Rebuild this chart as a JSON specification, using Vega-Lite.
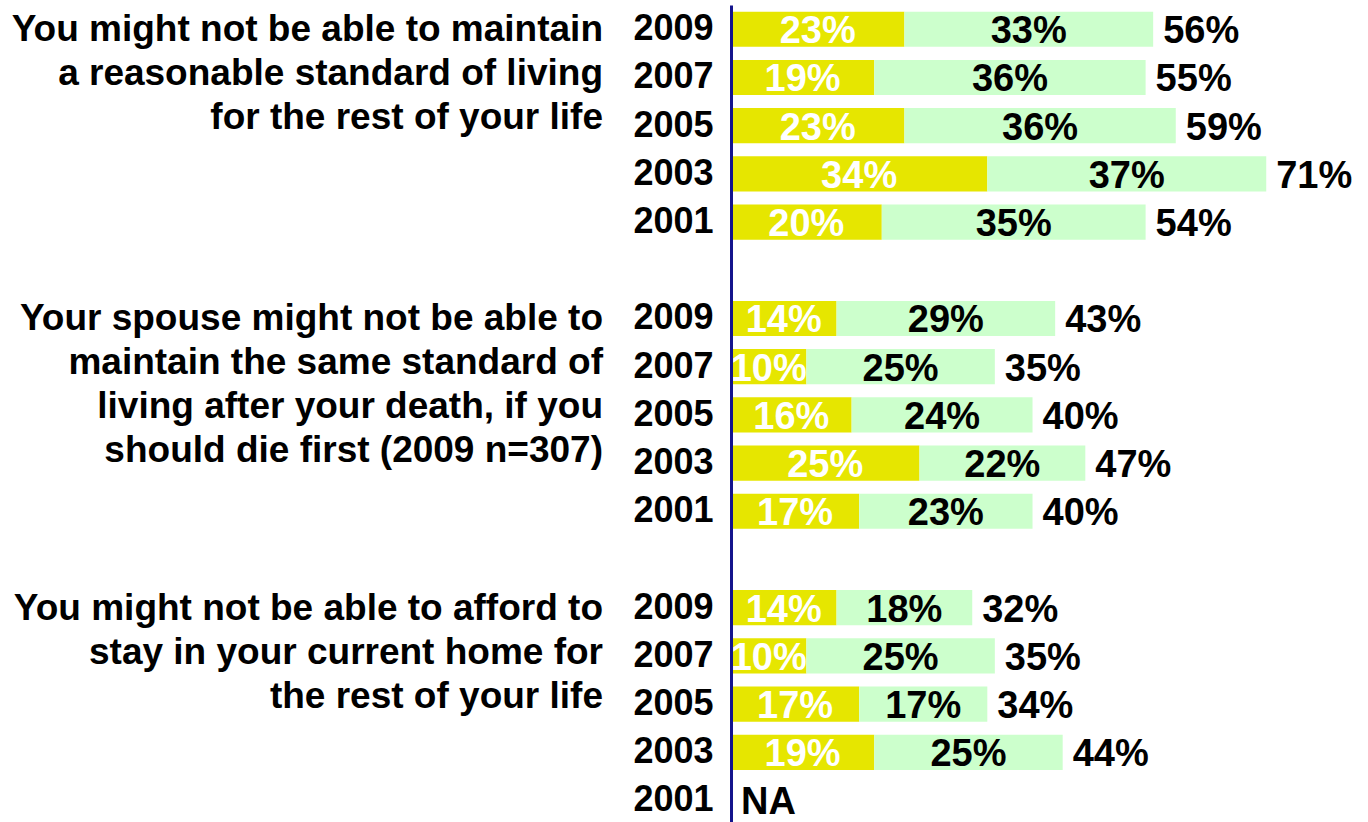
{
  "$schema": "https://vega.github.io/schema/vega-lite/v6.json",
  "autosize": {"type": "none"},
  "padding": {"left": 731, "top": 5, "right": 0, "bottom": 0},
  "width": 637,
  "height": 817,
  "background": "white",
  "config": {"view": {"stroke": null}, "text": {"font": "Liberation Sans", "fontWeight": "bold"}},
  "datasets": {
    "segments": [
      {"row": "A2009", "seg": "A", "value": 23, "label": "23%", "total": "56%"},
      {"row": "A2009", "seg": "B", "value": 33, "label": "33%", "total": "56%"},
      {"row": "A2007", "seg": "A", "value": 19, "label": "19%", "total": "55%"},
      {"row": "A2007", "seg": "B", "value": 36, "label": "36%", "total": "55%"},
      {"row": "A2005", "seg": "A", "value": 23, "label": "23%", "total": "59%"},
      {"row": "A2005", "seg": "B", "value": 36, "label": "36%", "total": "59%"},
      {"row": "A2003", "seg": "A", "value": 34, "label": "34%", "total": "71%"},
      {"row": "A2003", "seg": "B", "value": 37, "label": "37%", "total": "71%"},
      {"row": "A2001", "seg": "A", "value": 20, "label": "20%", "total": "54%"},
      {"row": "A2001", "seg": "B", "value": 35, "label": "35%", "total": "54%"},
      {"row": "B2009", "seg": "A", "value": 14, "label": "14%", "total": "43%"},
      {"row": "B2009", "seg": "B", "value": 29, "label": "29%", "total": "43%"},
      {"row": "B2007", "seg": "A", "value": 10, "label": "10%", "total": "35%"},
      {"row": "B2007", "seg": "B", "value": 25, "label": "25%", "total": "35%"},
      {"row": "B2005", "seg": "A", "value": 16, "label": "16%", "total": "40%"},
      {"row": "B2005", "seg": "B", "value": 24, "label": "24%", "total": "40%"},
      {"row": "B2003", "seg": "A", "value": 25, "label": "25%", "total": "47%"},
      {"row": "B2003", "seg": "B", "value": 22, "label": "22%", "total": "47%"},
      {"row": "B2001", "seg": "A", "value": 17, "label": "17%", "total": "40%"},
      {"row": "B2001", "seg": "B", "value": 23, "label": "23%", "total": "40%"},
      {"row": "C2009", "seg": "A", "value": 14, "label": "14%", "total": "32%"},
      {"row": "C2009", "seg": "B", "value": 18, "label": "18%", "total": "32%"},
      {"row": "C2007", "seg": "A", "value": 10, "label": "10%", "total": "35%"},
      {"row": "C2007", "seg": "B", "value": 25, "label": "25%", "total": "35%"},
      {"row": "C2005", "seg": "A", "value": 17, "label": "17%", "total": "34%"},
      {"row": "C2005", "seg": "B", "value": 17, "label": "17%", "total": "34%"},
      {"row": "C2003", "seg": "A", "value": 19, "label": "19%", "total": "44%"},
      {"row": "C2003", "seg": "B", "value": 25, "label": "25%", "total": "44%"},
      {"row": "C2001", "seg": "A", "value": 0, "label": "", "total": "NA"}
    ],
    "questions": [
      {"row": "A2009", "text": "You might not be able to maintain\na reasonable standard of living\nfor the rest of your life"},
      {"row": "B2009", "text": "Your spouse might not be able to\nmaintain the same standard of\nliving after your death, if you\nshould die first (2009 n=307)"},
      {"row": "C2009", "text": "You might not be able to afford to\nstay in your current home for\nthe rest of your life"}
    ]
  },
  "encoding": {
    "y": {
      "field": "row",
      "type": "nominal",
      "scale": {
        "domain": ["A2009", "A2007", "A2005", "A2003", "A2001", "X", "B2009", "B2007", "B2005", "B2003", "B2001", "Y", "C2009", "C2007", "C2005", "C2003", "C2001"],
        "paddingInner": 0.27,
        "paddingOuter": 0.11,
        "align": 0.63
      },
      "axis": {
        "title": null,
        "ticks": false,
        "labelPadding": 18,
        "labelFont": "Liberation Sans",
        "labelFontSize": 36,
        "labelFontWeight": "bold",
        "labelColor": "black",
        "labelLimit": 400,
        "labelExpr": "slice(datum.value, 1)",
        "domainColor": "#14148c",
        "domainWidth": 3,
        "zindex": 1
      }
    }
  },
  "layer": [
    {
      "data": {"name": "segments"},
      "transform": [{"filter": "datum.value > 0"}],
      "mark": {"type": "bar"},
      "encoding": {
        "x": {"field": "value", "type": "quantitative", "stack": "zero", "scale": {"domain": [0, 84.5], "nice": false}, "axis": null},
        "color": {"field": "seg", "type": "nominal", "scale": {"domain": ["A", "B"], "range": ["#e6e600", "#ccffcc"]}, "legend": null},
        "order": {"field": "seg"}
      }
    },
    {
      "data": {"name": "segments"},
      "transform": [{"filter": "datum.value > 0"}],
      "mark": {"type": "text", "fontSize": 38, "baseline": "middle", "dy": 3},
      "encoding": {
        "x": {"field": "value", "type": "quantitative", "stack": "zero", "bandPosition": 0.5},
        "detail": {"field": "seg"},
        "order": {"field": "seg"},
        "text": {"field": "label"},
        "color": {"condition": {"test": "datum.seg === 'A'", "value": "white"}, "value": "black"}
      }
    },
    {
      "data": {"name": "segments"},
      "transform": [{"aggregate": [{"op": "sum", "field": "value", "as": "end"}], "groupby": ["row", "total"]}],
      "mark": {"type": "text", "fontSize": 38, "baseline": "middle", "align": "left", "dx": 10, "dy": 3, "color": "black"},
      "encoding": {
        "x": {"field": "end", "type": "quantitative"},
        "text": {"field": "total"}
      }
    },
    {
      "data": {"name": "questions"},
      "mark": {"type": "text", "fontSize": 37, "align": "right", "baseline": "alphabetic", "dx": -128, "dy": 12, "lineHeight": 44, "lineBreak": "\n", "color": "black"},
      "encoding": {
        "x": {"datum": 0, "type": "quantitative"},
        "text": {"field": "text"}
      }
    }
  ]
}
